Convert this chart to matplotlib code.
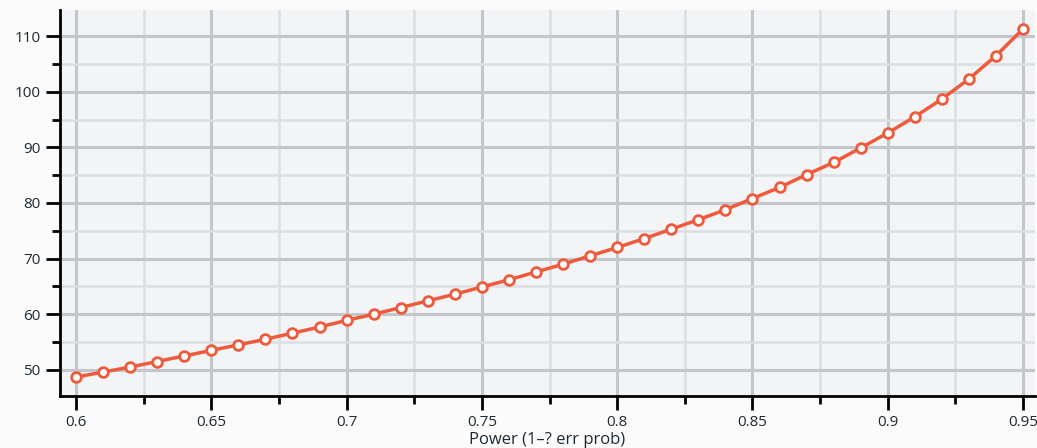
import numpy as np
import matplotlib.pyplot as plt
from matplotlib.ticker import MultipleLocator

plt.rcParams['font.family'] = ['Open Sans', 'DejaVu Sans']

# power values and required sample size
power = [0.60, 0.61, 0.62, 0.63, 0.64, 0.65, 0.66, 0.67, 0.68, 0.69,
         0.70, 0.71, 0.72, 0.73, 0.74, 0.75, 0.76, 0.77, 0.78, 0.79,
         0.80, 0.81, 0.82, 0.83, 0.84, 0.85, 0.86, 0.87, 0.88, 0.89,
         0.90, 0.91, 0.92, 0.93, 0.94, 0.95]
sample_size = [48.7, 49.6, 50.5, 51.5, 52.5, 53.5, 54.5, 55.5, 56.6, 57.7,
               58.9, 60.0, 61.2, 62.4, 63.6, 64.9, 66.2, 67.6, 69.0, 70.5,
               72.0, 73.6, 75.3, 77.0, 78.8, 80.8, 82.8, 85.1, 87.3, 89.9,
               92.6, 95.5, 98.7, 102.3, 106.5, 111.3]

fig = plt.figure(figsize=(10.37, 4.48), dpi=100, facecolor='#fbfbfb')
ax = fig.add_axes([60 / 1037, 1 - 396 / 448, 975 / 1037, 386 / 448])
ax.set_facecolor('#f3f4f6')

ax.plot(power, sample_size, color='#f05a3c', lw=2.5, marker='o', ms=7,
        mfc='white', mec='#f05a3c', mew=2, zorder=3)

ax.set_xlim(0.5941, 0.9544)
ax.set_ylim(45.3, 114.7)

ax.xaxis.set_major_locator(MultipleLocator(0.05))
ax.xaxis.set_minor_locator(MultipleLocator(0.025))
ax.yaxis.set_major_locator(MultipleLocator(10))
ax.yaxis.set_minor_locator(MultipleLocator(5))
ax.set_xticks([0.6, 0.65, 0.7, 0.75, 0.8, 0.85, 0.9, 0.95])
ax.set_xticklabels(['0.6', '0.65', '0.7', '0.75', '0.8', '0.85', '0.9', '0.95'])

ax.grid(which='major', color='#c3c7cb', lw=2.2, zorder=0)
ax.grid(which='minor', color='#dcdfe2', lw=1.8, zorder=0)
ax.set_axisbelow(True)

for s in ['top', 'right']:
    ax.spines[s].set_visible(False)
for s in ['left', 'bottom']:
    ax.spines[s].set_linewidth(2)
    ax.spines[s].set_color('black')

ax.tick_params(which='major', direction='out', length=10, width=2,
               labelsize=11, colors='black', labelcolor='#1e2a33', pad=4)
ax.tick_params(which='minor', direction='out', length=6, width=2)

ax.set_xlabel('Power (1\u2013? err prob)', fontsize=12, color='#1e2a33', labelpad=1)

plt.savefig('out.png', dpi=100, facecolor=fig.get_facecolor())
